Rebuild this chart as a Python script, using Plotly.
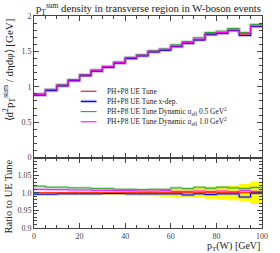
import plotly.graph_objects as go

# ---------------- data ----------------
bin_edges = [0, 5, 10, 15, 20, 25, 30, 35, 40, 45, 50,
             55, 60, 65, 70, 75, 80, 85, 90, 95, 100]

main_ref = [0.885, 0.950, 1.015, 1.088, 1.158, 1.224, 1.276, 1.337, 1.402, 1.440,
            1.495, 1.520, 1.571, 1.620, 1.665, 1.744, 1.758, 1.798, 1.745, 1.853]
main_xdep = [0.882, 0.946, 1.012, 1.085, 1.155, 1.220, 1.273, 1.334, 1.398, 1.436,
             1.491, 1.516, 1.566, 1.611, 1.660, 1.735, 1.753, 1.793, 1.724, 1.851]
main_dyn05 = [0.902, 0.965, 1.031, 1.103, 1.174, 1.239, 1.291, 1.350, 1.416, 1.453,
              1.510, 1.534, 1.593, 1.639, 1.692, 1.767, 1.786, 1.823, 1.766, 1.881]
main_dyn10 = [0.894, 0.959, 1.024, 1.097, 1.167, 1.233, 1.285, 1.345, 1.410, 1.447,
              1.503, 1.529, 1.577, 1.626, 1.673, 1.751, 1.767, 1.803, 1.755, 1.860]

ratio_ref = [1.0] * 20
ratio_ref_err = [0.004, 0.004, 0.004, 0.005, 0.005, 0.006, 0.006, 0.007, 0.008, 0.009,
                 0.010, 0.011, 0.012, 0.013, 0.014, 0.017, 0.018, 0.021, 0.025, 0.032]
ratio_xdep = [0.996, 0.996, 0.997, 0.997, 0.997, 0.997, 0.998, 0.998, 0.997, 0.997,
              0.997, 0.997, 0.997, 0.994, 0.997, 0.995, 0.997, 0.997, 0.988, 0.999]
ratio_dyn05 = [1.019, 1.016, 1.016, 1.014, 1.014, 1.012, 1.012, 1.010, 1.010, 1.009,
               1.010, 1.010, 1.014, 1.012, 1.016, 1.013, 1.016, 1.014, 1.012, 1.015]
ratio_dyn10 = [1.010, 1.009, 1.009, 1.008, 1.008, 1.007, 1.007, 1.006, 1.006, 1.005,
               1.005, 1.006, 1.004, 1.004, 1.005, 1.004, 1.005, 1.003, 1.006, 1.004]

labels = ["PH+P8 UE Tune",
          "PH+P8 UE Tune x-dep.",
          "PH+P8 UE Tune Dynamic σ<sub>eff</sub> 0.5 GeV<sup>2</sup>",
          "PH+P8 UE Tune Dynamic σ<sub>eff</sub> 1.0 GeV<sup>2</sup>"]
colors = ["#ff0000", "#0000ff", "#33a033", "#ff00ff"]
band_colors = ["rgba(255,120,120,0.35)", "rgba(120,120,255,0.45)",
               "rgba(120,200,120,0.40)", "rgba(255,130,255,0.40)"]

FONT = "Liberation Serif"


def step(v):
    return list(v) + [v[-1]]


fig = go.Figure()

# ---- main panel ----
mains = [main_ref, main_xdep, main_dyn05, main_dyn10]
for vals, bc in zip(mains, band_colors):
    fig.add_trace(go.Scatter(x=bin_edges, y=step(vals), mode="lines", line_shape="hv",
                             line=dict(color=bc, width=3.0), showlegend=False,
                             hoverinfo="skip", xaxis="x", yaxis="y"))
for vals, c, lab in zip(mains, colors, labels):
    fig.add_trace(go.Scatter(x=bin_edges, y=step(vals), mode="lines", line_shape="hv",
                             line=dict(color=c, width=1.0), name=lab, showlegend=False,
                             xaxis="x", yaxis="y"))

# ---- ratio panel ----
lo = [r - e for r, e in zip(ratio_ref, ratio_ref_err)]
hi = [r + e for r, e in zip(ratio_ref, ratio_ref_err)]
fig.add_trace(go.Scatter(x=bin_edges, y=step(lo), mode="lines", line_shape="hv",
                         line=dict(width=0, color="#ffff00"), showlegend=False,
                         hoverinfo="skip", xaxis="x2", yaxis="y2"))
fig.add_trace(go.Scatter(x=bin_edges, y=step(hi), mode="lines", line_shape="hv",
                         line=dict(width=0, color="#ffff00"), fill="tonexty",
                         fillcolor="#ffff00", showlegend=False,
                         hoverinfo="skip", xaxis="x2", yaxis="y2"))
ratios = [ratio_ref, ratio_xdep, ratio_dyn05, ratio_dyn10]
for vals, bc in zip(ratios[1:], band_colors[1:]):
    fig.add_trace(go.Scatter(x=bin_edges, y=step(vals), mode="lines", line_shape="hv",
                             line=dict(color=bc, width=3.0), showlegend=False,
                             hoverinfo="skip", xaxis="x2", yaxis="y2"))
for vals, c in zip(ratios, colors):
    fig.add_trace(go.Scatter(x=bin_edges, y=step(vals), mode="lines", line_shape="hv",
                             line=dict(color=c, width=1.0), showlegend=False,
                             xaxis="x2", yaxis="y2"))

axis_common = dict(showline=True, linecolor="#444", linewidth=1, mirror="allticks",
                   ticks="inside", tickcolor="#444", ticklen=5, tickwidth=0.8,
                   showgrid=False, zeroline=False,
                   tickfont=dict(family=FONT, size=8, color="#444"))

# ---- hand-made legend (line samples + texts) ----
leg_y = [0.645, 0.597, 0.549, 0.501]
leg_x0, leg_x1, leg_tx = 0.205, 0.274, 0.31
shapes = []
annotations = []
for i, (lab, c, bc) in enumerate(zip(labels, colors, band_colors)):
    if i == 1:
        shapes.append(dict(type="line", xref="paper", yref="paper", x0=leg_x0, x1=leg_x1,
                           y0=leg_y[i], y1=leg_y[i], line=dict(color=bc, width=3.5)))
    shapes.append(dict(type="line", xref="paper", yref="paper", x0=leg_x0, x1=leg_x1,
                       y0=leg_y[i], y1=leg_y[i], line=dict(color=c, width=1.1)))
    annotations.append(dict(text=lab, xref="paper", yref="paper", x=leg_tx, y=leg_y[i],
                            xanchor="left", yanchor="middle", showarrow=False,
                            font=dict(family=FONT, size=7.4, color="#222")))

annotations += [
    dict(text="p<sub>T</sub><sup>sum</sup> density in transverse region in W-boson events",
         xref="paper", yref="paper", x=0, y=1.035, xanchor="left", yanchor="middle",
         showarrow=False, font=dict(family=FONT, size=10.7, color="#222")),
    dict(text="⟨d<sup>2</sup>p<sub>T</sub><sup>sum</sup> / dηdφ⟩ [GeV]",
         xref="paper", yref="paper", x=-0.11, y=1.0, xanchor="center", yanchor="top",
         textangle=-90, showarrow=False, font=dict(family=FONT, size=11, color="#222")),
    dict(text="Ratio to UE Tune",
         xref="paper", yref="paper", x=-0.11, y=0.332, xanchor="center", yanchor="top",
         textangle=-90, showarrow=False, font=dict(family=FONT, size=10.5, color="#222")),
    dict(text="p<sub>T</sub>(W) [GeV]",
         xref="paper", yref="paper", x=1.0, y=0, xanchor="right", yanchor="top",
         yshift=-10, showarrow=False, font=dict(family=FONT, size=10, color="#222")),
]

fig.update_layout(
    width=280, height=253,
    margin=dict(l=34, r=12, t=16, b=23),
    paper_bgcolor="white", plot_bgcolor="white",
    font=dict(family=FONT, color="#222"),
    showlegend=False,
    xaxis=dict(domain=[0, 1], range=[0, 100], anchor="y", showticklabels=False,
               dtick=20, minor=dict(dtick=5, ticklen=3, ticks="inside", tickcolor="#444"),
               **axis_common),
    yaxis=dict(domain=[0.332, 1], range=[0, 2.0], anchor="x",
               tickvals=[0, 0.5, 1, 1.5, 2], ticktext=["0", "0.5", "1", "1.5", "2"],
               minor=dict(dtick=0.1, ticklen=3, ticks="inside", tickcolor="#444"),
               **axis_common),
    xaxis2=dict(domain=[0, 1], range=[0, 100], anchor="y2", matches="x", dtick=20,
                minor=dict(dtick=5, ticklen=3, ticks="inside", tickcolor="#444"),
                **axis_common),
    yaxis2=dict(domain=[0, 0.332], range=[0.9, 1.1], anchor="x2",
                tickvals=[0.9, 0.95, 1.0, 1.05], ticktext=["0.9", "0.95", "1.0", "1.05"],
                minor=dict(dtick=0.01, ticklen=3, ticks="inside", tickcolor="#444"),
                **axis_common),
    shapes=shapes,
    annotations=annotations,
)

fig.write_html("out.html", config={"displayModeBar": False},
               post_script="document.body.style.margin='0';")
